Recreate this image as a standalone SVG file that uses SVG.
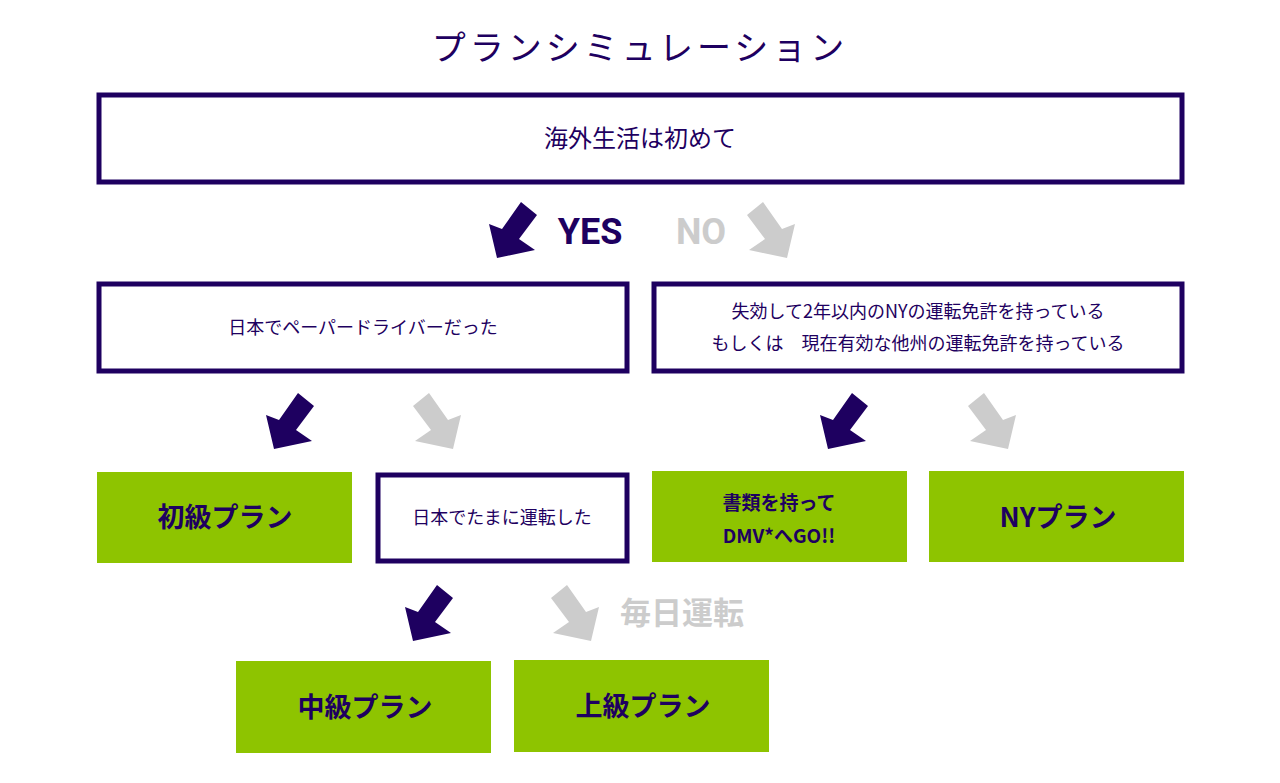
<svg xmlns="http://www.w3.org/2000/svg" width="1280" height="783" viewBox="0 0 1280 783">
<style>
text{font-family:"Noto Sans CJK JP","Noto Sans",sans-serif;fill:#1e0060;text-anchor:middle}
.ob{fill:#fff;stroke:#1e0060;stroke-width:5}
.g{fill:#8ec400}
.b{font-weight:bold;font-size:27px}
.d{fill:#1e0060}.l{fill:#cccccc}
</style>
<defs>
<polygon id="a" points="33,0 49,13 31,37 47,48 9,56 1,22 14,27"/>
<polygon id="m" points="15,0 -1,13 17,37 1,48 39,56 47,22 34,27"/>
</defs>
<rect width="1280" height="783" fill="#fff"/>
<text x="640" y="60" font-size="34" letter-spacing="4">プランシミュレーション</text>
<g id="n1"><rect class="ob" x="99" y="95" width="1083" height="87"/><text x="640" y="147" font-size="24">海外生活は初めて</text></g>
<g id="n2"><rect class="ob" x="99" y="284" width="528" height="87"/><text x="363" y="334" font-size="18">日本でペーパードライバーだった</text></g>
<g id="n3"><rect class="ob" x="654" y="284" width="528" height="87"/><text x="918" y="318" font-size="18">失効して2年以内のNYの運転免許を持っている</text><text x="918" y="350" font-size="18">もしくは　現在有効な他州の運転免許を持っている</text></g>
<g id="n4"><rect class="g" x="97" y="472" width="255" height="91"/><text class="b" x="225" y="527">初級プラン</text></g>
<g id="n5"><rect class="ob" x="378" y="475" width="249" height="86"/><text x="502" y="524" font-size="18">日本でたまに運転した</text></g>
<g id="n6"><rect class="g" x="652" y="471" width="255" height="91"/><text x="779" y="510" font-size="19" font-weight="bold">書類を持って</text><text x="779" y="543" font-size="19" font-weight="bold">DMV*へGO!!</text></g>
<g id="n7"><rect class="g" x="929" y="471" width="255" height="91"/><text class="b" x="1058" y="527">NYプラン</text></g>
<g id="n8"><rect class="g" x="236" y="661" width="255" height="92"/><text class="b" x="365" y="717">中級プラン</text></g>
<g id="n9"><rect class="g" x="514" y="660" width="255" height="92"/><text class="b" x="643" y="716">上級プラン</text></g>
<g id="connectors">
<use href="#a" class="d" x="488" y="202"/>
<use href="#m" class="l" x="748" y="202"/>
<use href="#a" class="d" x="265" y="393"/>
<use href="#m" class="l" x="414" y="393"/>
<use href="#a" class="d" x="819" y="393"/>
<use href="#m" class="l" x="969" y="393"/>
<use href="#a" class="d" x="404" y="585"/>
<use href="#m" class="l" x="552" y="585"/>
<text x="590" y="244" font-family="Roboto,sans-serif" font-weight="bold" font-size="36" style="font-family:Roboto,sans-serif">YES</text>
<text x="701" y="244" font-weight="bold" font-size="36" style="fill:#cccccc;font-family:Roboto,sans-serif">NO</text>
<text x="682" y="624" font-weight="bold" font-size="31" style="fill:#cccccc">毎日運転</text>
</g>
</svg>
